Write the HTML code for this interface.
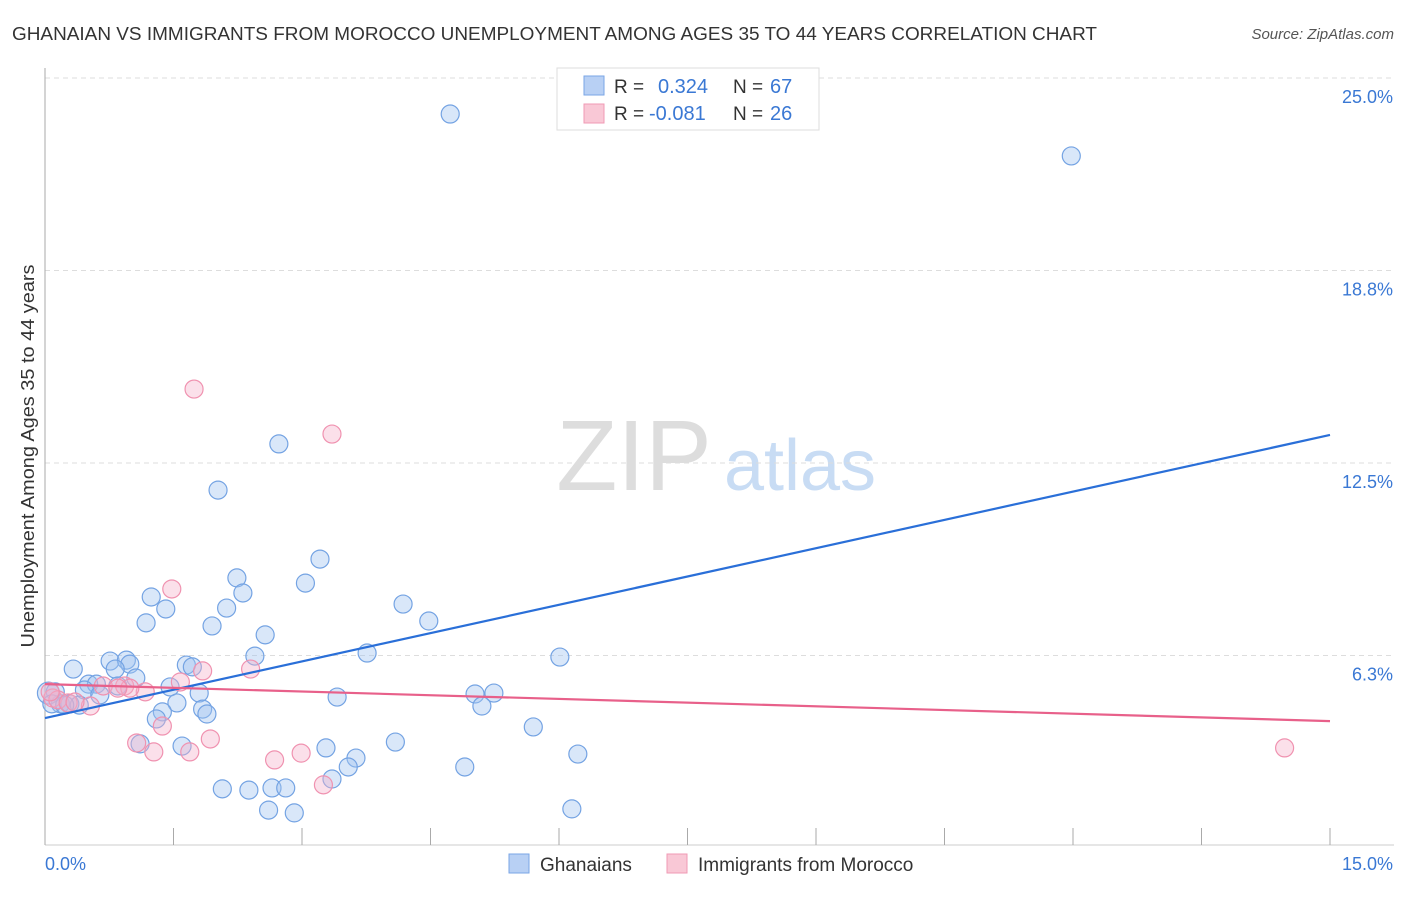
<!DOCTYPE html>
<html><head><meta charset="utf-8"><style>
body{margin:0;background:#fff;font-family:"Liberation Sans",sans-serif;}
svg text{font-family:"Liberation Sans",sans-serif;}
</style></head><body>
<svg width="1406" height="892">
<text x="12" y="40" font-size="18" fill="#333" textLength="1085" lengthAdjust="spacingAndGlyphs">GHANAIAN VS IMMIGRANTS FROM MOROCCO UNEMPLOYMENT AMONG AGES 35 TO 44 YEARS CORRELATION CHART</text>
<text x="1394" y="39" font-size="15" fill="#555" font-style="italic" text-anchor="end">Source: ZipAtlas.com</text>
<text x="634" y="490" font-size="100" fill="#ddd" font-family="Liberation Serif" text-anchor="middle">ZIP</text>
<text x="800" y="490" font-size="72" fill="#c8dcf4" text-anchor="middle">atlas</text>
<g id="grid"></g>
<g id="pts"></g>
<g id="lines"></g>
<text transform="translate(34,456) rotate(-90)" font-size="18" fill="#333" text-anchor="middle" textLength="383" lengthAdjust="spacingAndGlyphs">Unemployment Among Ages 35 to 44 years</text>
<text x="45" y="870" font-size="18" fill="#3a78d4">0.0%</text>
<text x="1393" y="870" font-size="18" fill="#3a78d4" text-anchor="end">15.0%</text>
<g>
<rect x="557" y="68" width="262" height="62" fill="#fff" stroke="#ddd"/>
<rect x="584" y="76" width="20" height="19" fill="#b8d0f4" stroke="#7aa6e6"/>
<rect x="584" y="104" width="20" height="19" fill="#f9c8d6" stroke="#f09ab4"/>
<text x="614" y="93" font-size="19" fill="#333">R =</text>
<text x="658" y="93" font-size="20" fill="#3a78d4">0.324</text>
<text x="733" y="93" font-size="19" fill="#333">N =</text>
<text x="770" y="93" font-size="20" fill="#3a78d4">67</text>
<text x="614" y="120" font-size="19" fill="#333">R =</text>
<text x="649" y="120" font-size="20" fill="#3a78d4">-0.081</text>
<text x="733" y="120" font-size="19" fill="#333">N =</text>
<text x="770" y="120" font-size="20" fill="#3a78d4">26</text>
</g>
<g>
<rect x="509" y="854" width="20" height="19" fill="#b8d0f4" stroke="#7aa6e6"/>
<text x="540" y="871" font-size="19" fill="#333">Ghanaians</text>
<rect x="667" y="854" width="20" height="19" fill="#f9c8d6" stroke="#f09ab4"/>
<text x="698" y="871" font-size="19" fill="#333">Immigrants from Morocco</text>
</g>
</svg>
<script>
const yTicks=[6.25,12.5,18.75,25];
const yTickLabels=["6.3%","12.5%","18.8%","25.0%"];
const xTicks=[0,1.5,3,4.5,6,7.5,9,10.5,12,13.5,15];
const ghX=[4.73,11.98,2.73,2.02,3.21,2.24,3.04,2.31,1.24,1.41,2.12,4.18,4.48,1.18,1.95,2.57,6.01,3.76,2.45,0.76,0.95,0.99,0.33,0.82,1.65,1.72,1.06,0.51,0.85,0.60,1.46,1.80,5.02,5.24,0.46,0.12,0.64,3.41,1.54,5.10,1.84,1.89,1.37,1.30,0.18,0.29,0.40,5.70,1.11,1.60,3.28,4.09,3.63,3.54,6.22,4.90,3.35,2.07,2.38,2.65,2.81,2.61,2.91,6.15,0.04,0.08,0.23];
const ghY=[23.83,22.47,13.12,11.62,9.38,8.77,8.60,8.28,8.15,7.76,7.79,7.92,7.37,7.31,7.21,6.92,6.20,6.33,6.23,6.07,6.10,5.97,5.81,5.81,5.94,5.88,5.52,5.32,5.26,5.32,5.23,5.03,5.00,5.03,5.13,5.07,4.97,4.90,4.71,4.61,4.51,4.35,4.42,4.19,4.68,4.68,4.64,3.93,3.38,3.31,3.25,3.44,2.92,2.63,3.05,2.63,2.24,1.92,1.88,1.95,1.95,1.23,1.14,1.27,5.03,4.68,4.64];
const moX=[1.74,3.35,1.48,1.84,2.40,1.58,0.68,0.93,1.17,0.99,0.09,0.53,0.15,0.27,1.37,1.07,1.27,1.69,1.93,2.68,2.99,3.25,14.47,0.06,0.85,0.35];
const moY=[14.90,13.44,8.41,5.75,5.81,5.39,5.26,5.26,5.07,5.19,4.87,4.61,4.81,4.71,3.96,3.41,3.12,3.12,3.54,2.86,3.08,2.05,3.25,5.07,5.19,4.74];
const ghTrend=[4.22,13.41];
const moTrend=[5.32,4.12];
const trendX=[0,15];
const NS="http://www.w3.org/2000/svg";
const X=v=>45+v/15*1285;
const Y=v=>848-v/6.25*192.5;
function mk(t,a,p){const e=document.createElementNS(NS,t);for(const k in a)e.setAttribute(k,a[k]);p.appendChild(e);return e;}
const grid=document.getElementById('grid');
yTicks.forEach((t,i)=>{
 const l=mk('line',{x1:45,x2:1394,y1:Y(t),y2:Y(t),stroke:'#ddd','stroke-dasharray':'5,4'},grid);
 
 
 const tx=mk('text',{x:1393,y:Y(t)+25,'font-size':18,fill:'#3a78d4','text-anchor':'end'},grid);
 tx.textContent=yTickLabels[i];
 
 
});
const ax=mk('line',{x1:45,x2:45,y1:68,y2:845,stroke:'#aaa'},grid);


const bx=mk('line',{x1:45,x2:1394,y1:845,y2:845,stroke:'#ccc'},grid);


xTicks.forEach(t=>{
 const l=mk('line',{x1:X(t),x2:X(t),y1:828,y2:845,stroke:'#aaa'},grid);
 
 
});
const pts=document.getElementById('pts');
ghX.forEach((v,i)=>{
 const c=mk('circle',{cx:X(v),cy:Y(ghY[i]),r:i==64?11:9,fill:'rgba(160,194,240,0.4)',stroke:'#74a3e3','stroke-width':1.2},pts);
 
 
});
moX.forEach((v,i)=>{
 const c=mk('circle',{cx:X(v),cy:Y(moY[i]),r:9,fill:'rgba(246,178,202,0.4)',stroke:'#f092b0','stroke-width':1.2},pts);
 
 
});
const lines=document.getElementById('lines');
const l1=mk('line',{x1:X(trendX[0]),x2:X(trendX[1]),y1:Y(ghTrend[0]),y2:Y(ghTrend[1]),stroke:'#2a6fd8','stroke-width':2.2},lines);


const l2=mk('line',{x1:X(trendX[0]),x2:X(trendX[1]),y1:Y(moTrend[0]),y2:Y(moTrend[1]),stroke:'#e8608a','stroke-width':2.2},lines);


</script>
</body></html>
